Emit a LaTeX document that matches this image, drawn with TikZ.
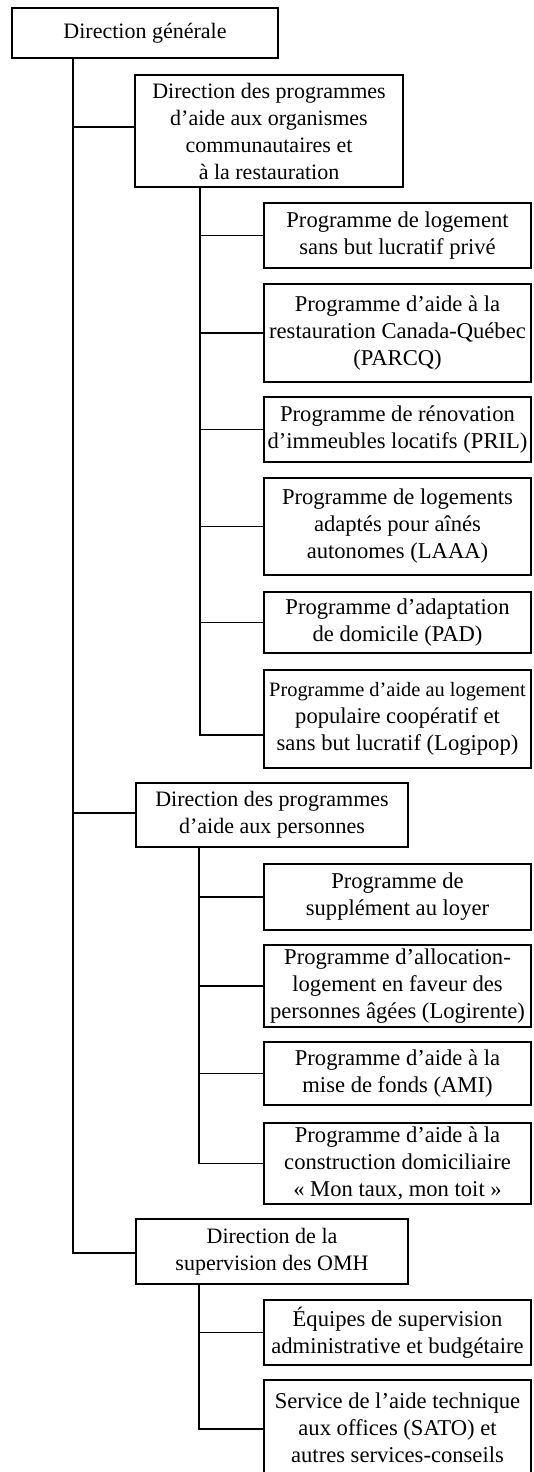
\documentclass[tikz,border=0pt]{standalone}
\usepackage{fontspec}
\setmainfont{Liberation Serif}
\begin{document}
\begin{tikzpicture}[x=1pt,y=-1pt,
  box/.style={draw,line width=2.2pt,rectangle,inner sep=0pt,align=center,
    font=\fontsize{22}{27}\selectfont},
  prog/.style={box,minimum width=267pt,font=\fontsize{22.6}{27}\selectfont},
  link/.style={line width=1.5pt}]
\useasboundingbox (0,0) rectangle (533,1472);
\fill[white] (0,0) rectangle (533,1472);
% directions
\node[box,minimum width=266pt,minimum height=50pt] (gen) at (145,33) {Direction générale};
\node[box,minimum width=268pt,minimum height=112pt] (d1) at (269,131)
  {Direction des programmes\\d’aide aux organismes\\communautaires et\\à la restauration};
\node[box,minimum width=272pt,minimum height=64pt] (d2) at (272,815)
  {Direction des programmes\\d’aide aux personnes};
\node[box,minimum width=272pt,minimum height=65pt] (d3) at (272,1251.5)
  {Direction de la\\supervision des OMH};
% programmes d1
\node[prog,minimum height=65pt] (p1) at (397.5,235.5) {Programme de logement\\sans but lucratif privé};
\node[prog,minimum height=98pt] (p2) at (397.5,333) {Programme d’aide à la\\restauration Canada-Québec\\(PARCQ)};
\node[prog,minimum height=65pt] (p3) at (397.5,429.5) {Programme de rénovation\\d’immeubles locatifs (PRIL)};
\node[prog,minimum height=97pt] (p4) at (397.5,526.5) {Programme de logements\\adaptés pour aînés\\autonomes (LAAA)};
\node[prog,minimum height=61pt] (p5) at (397.5,622.5) {Programme d’adaptation\\de domicile (PAD)};
\node[prog,minimum height=98pt] (p6) at (397.5,719) {\fontsize{20.4}{27}\selectfont Programme d’aide au logement\\populaire coopératif et\\sans but lucratif (Logipop)};
% programmes d2
\node[prog,minimum height=66pt] (q1) at (397.5,897) {Programme de\\supplément au loyer};
\node[prog,minimum height=82pt] (q2) at (397.5,986) {Programme d’allocation-\\logement en faveur des\\personnes âgées (Logirente)};
\node[prog,minimum height=63pt] (q3) at (397.5,1073.5) {Programme d’aide à la\\mise de fonds (AMI)};
\node[prog,minimum height=81pt] (q4) at (397.5,1163.5) {Programme d’aide à la\\construction domiciliaire\\«~Mon taux, mon toit~»};
% d3
\node[prog,minimum height=65pt] (r1) at (397.5,1332.5) {Équipes de supervision\\administrative et budgétaire};
\node[prog,minimum height=96pt] (r2) at (397.5,1428) {Service de l’aide technique\\aux offices (SATO) et\\autres services-conseils};
% trunks
\coordinate (t0) at (73,0);
\coordinate (t1) at (200,0);
\coordinate (t2) at (199,0);
\draw[link] (t0 |- gen.south) |- ([yshift=-1.5pt]d3.west);
\draw[link] (t0 |- d1.west) ++(0,-4) -- ([yshift=4pt]d1.west);
\draw[link] (t0 |- d2.west) ++(0,-2) -- ([yshift=2pt]d2.west);
\draw[link] (t1 |- d1.south) |- ([yshift=-16pt]p6.west);
\draw[link] (t1 |- p1.west) -- (p1.west);
\draw[link] (t1 |- p2.west) -- (p2.west);
\draw[link] (t1 |- p3.west) -- (p3.west);
\draw[link] (t1 |- p4.west) -- (p4.west);
\draw[link] (t1 |- p5.west) -- (p5.west);
\draw[link] (t2 |- d2.south) |- (q4.west);
\draw[link] (t2 |- q1.west) -- (q1.west);
\draw[link] (t2 |- q2.west) -- (q2.west);
\draw[link] (t2 |- q3.west) -- (q3.west);
\draw[link] (t2 |- d3.south) |- ([yshift=-1pt]r2.west);
\draw[link] (t2 |- r1.west) -- (r1.west);
\end{tikzpicture}
\end{document}
